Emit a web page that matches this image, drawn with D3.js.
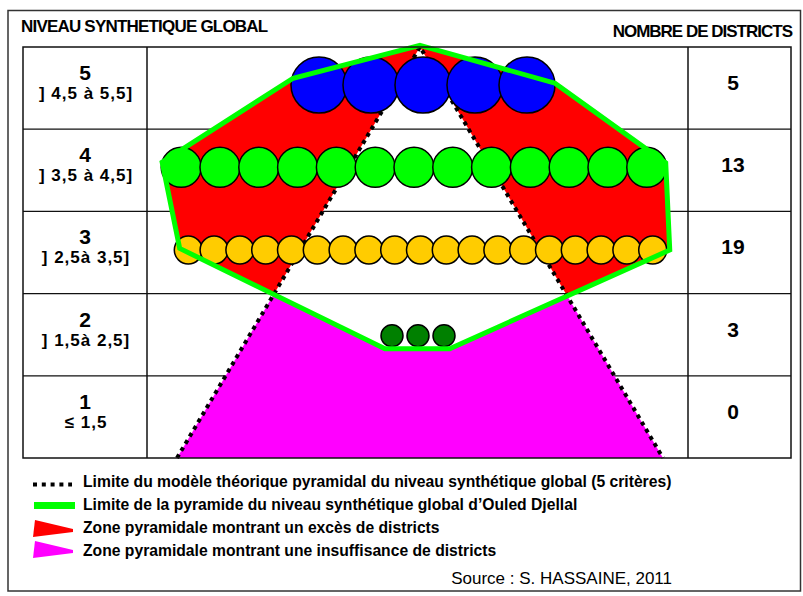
<!DOCTYPE html>
<meta charset="utf-8">
<style>
    body { margin: 0; background: #fff; }
    text { font-family: "Liberation Sans", Arial, sans-serif; fill: #000; }
</style>
<body>
<svg id="chart" width="803" height="596"></svg>
<script src="https://cdn.jsdelivr.net/npm/d3@7/dist/d3.min.js"></script>
<script>
    // niveaux synthétiques et nombre de districts
    var levels = [5, 4, 3, 2, 1]
    var intervals = ["] 4,5 à 5,5]", "] 3,5 à 4,5]", "] 2,5à 3,5]", "] 1,5à 2,5]", "≤ 1,5"]
    var districts = [5, 13, 19, 3, 0]

    // pyramide théorique [x, niveau]
    var theoretical = [[-90, 0.5], [0, 5.5], [90, 0.5]]
    // pyramide observée d'Ouled Djellal [x, niveau]
    var observed = [[0, 5.52], [50, 5.06], [91, 4.09], [92.5, 3.03], [11, 1.83],
                    [-13, 1.83], [-89, 3.05], [-95.5, 4.1], [-47, 5.12]]

    var legendLabels = [
        "Limite du modèle théorique pyramidal du niveau synthétique global (5 critères)",
        "Limite de la pyramide du niveau synthétique global d\u2019Ouled Djellal",
        "Zone pyramidale montrant un excès de districts",
        "Zone pyramidale montrant une insuffisance de districts"
    ]

    // style des cercles par niveau
    var circleStyle = {
        5: {fill: "#0000ff", r: 28, step: 52, dx: 3, dy: -3},
        4: {fill: "#00ff00", r: 20, step: 38.8, dx: -6, dy: -3},
        3: {fill: "#ffcc00", r: 14, step: 25.8, dx: 0.5, dy: -2.5},
        2: {fill: "#008000", r: 11, step: 26, dx: -2, dy: 1},
        1: {fill: "#000", r: 10, step: 20, dx: 0, dy: 0}
    }

    var svg = d3.select("#chart")

    var x = d3.scaleLinear().domain([-100, 100]).range([150, 690])
    var y = d3.scaleLinear().domain([5.5, 0.5]).range([47, 458])

    var tableLeft = 23, col1 = 147, col2 = 688, tableRight = 791

    // cadre
    svg.append("rect")
        .attr("x", 8).attr("y", 10.5).attr("width", 792.5).attr("height", 580.5)
        .attr("fill", "none").attr("stroke", "#333").attr("stroke-width", 1.5)

    svg.append("text").attr("x", 21).attr("y", 32)
        .attr("font-size", 17).attr("font-weight", "bold").attr("letter-spacing", -0.8)
        .text("NIVEAU SYNTHETIQUE GLOBAL")
    svg.append("text").attr("x", 792).attr("y", 37).attr("text-anchor", "end")
        .attr("font-size", 17).attr("font-weight", "bold").attr("letter-spacing", -1)
        .text("NOMBRE DE DISTRICTS")

    // lignes du tableau
    svg.selectAll("line.row")
        .data(levels.slice(0, -1))
        .enter().append("line")
        .attr("class", "row")
        .attr("x1", tableLeft).attr("x2", tableRight)
        .attr("y1", d => y(d - 0.5)).attr("y2", d => y(d - 0.5))
        .attr("stroke", "#111").attr("stroke-width", 1.2)

    var lineGen = d3.line().x(d => x(d[0])).y(d => y(d[1]))
    var closedGen = d3.line().x(d => x(d[0])).y(d => y(d[1])).curve(d3.curveLinearClosed)

    var defs = svg.append("defs")
    var m1 = defs.append("mask").attr("id", "outTheory").attr("maskUnits", "userSpaceOnUse")
        .attr("x", 0).attr("y", 0).attr("width", 803).attr("height", 596)
    m1.append("rect").attr("width", 803).attr("height", 596).attr("fill", "#fff")
    m1.append("path").attr("d", closedGen(theoretical)).attr("fill", "#000")

    var m2 = defs.append("mask").attr("id", "outObserved").attr("maskUnits", "userSpaceOnUse")
        .attr("x", 0).attr("y", 0).attr("width", 803).attr("height", 596)
    m2.append("rect").attr("width", 803).attr("height", 596).attr("fill", "#fff")
    m2.append("path").attr("d", closedGen(observed)).attr("fill", "#000")

    // excès
    svg.append("path").attr("d", closedGen(observed))
        .attr("fill", "#ff0000").attr("mask", "url(#outTheory)")
    // insuffisance
    svg.append("path").attr("d", closedGen(theoretical))
        .attr("fill", "#ff00ff").attr("mask", "url(#outObserved)")

    svg.append("path").attr("d", lineGen(theoretical))
        .attr("fill", "none").attr("stroke", "#000").attr("stroke-width", 4)
        .attr("stroke-dasharray", "4 4.3")

    // cercles : un par district
    levels.forEach(function(lv, i) {
        var n = districts[i], st = circleStyle[lv]
        var half = Math.max(n - 1, 1) * st.step / 2
        var cx = d3.scaleLinear().domain([0, Math.max(n - 1, 1)])
            .range([x(0) + st.dx - half, x(0) + st.dx + half])
        if (n === 1) cx = () => x(0) + st.dx
        svg.selectAll("circle.l" + lv)
            .data(d3.range(n))
            .enter().append("circle")
            .attr("class", "l" + lv)
            .attr("cx", d => cx(d))
            .attr("cy", y(lv) + st.dy)
            .attr("r", st.r)
            .attr("fill", st.fill)
            .attr("stroke", "#000").attr("stroke-width", 1.5)
    })

    svg.append("path").attr("d", closedGen(observed))
        .attr("fill", "none").attr("stroke", "#00ff00").attr("stroke-width", 5)

    // bords du tableau
    svg.append("rect")
        .attr("x", tableLeft).attr("y", y(5.5)).attr("width", tableRight - tableLeft)
        .attr("height", y(0.5) - y(5.5))
        .attr("fill", "none").attr("stroke", "#111").attr("stroke-width", 1.5)
    svg.selectAll("line.col")
        .data([col1, col2])
        .enter().append("line")
        .attr("x1", d => d).attr("x2", d => d)
        .attr("y1", y(5.5)).attr("y2", y(0.5))
        .attr("stroke", "#111").attr("stroke-width", 1.5)

    // libellés
    var labelX = (tableLeft + col1) / 2
    svg.selectAll("text.lv")
        .data(levels)
        .enter().append("text")
        .attr("x", labelX).attr("y", d => y(d + 0.5) + 33)
        .attr("text-anchor", "middle").attr("font-size", 21).attr("font-weight", "bold")
        .text(d => d)
    svg.selectAll("text.iv")
        .data(intervals)
        .enter().append("text")
        .attr("x", labelX + 1).attr("y", (d, i) => y(levels[i] + 0.5) + 52)
        .attr("text-anchor", "middle").attr("font-size", 17).attr("font-weight", "bold")
        .attr("letter-spacing", 1)
        .text(d => d)
    svg.selectAll("text.nb")
        .data(districts)
        .enter().append("text")
        .attr("x", 733).attr("y", (d, i) => y(levels[i] + 0.5) + 43)
        .attr("text-anchor", "middle").attr("font-size", 21).attr("font-weight", "bold")
        .text(d => d)

    // légende
    var legY = [487, 510, 533, 556]
    svg.append("line").attr("x1", 33).attr("x2", 72).attr("y1", 484.5).attr("y2", 484.5)
        .attr("stroke", "#000").attr("stroke-width", 4).attr("stroke-dasharray", "4 4.8")
    svg.append("line").attr("x1", 34).attr("x2", 75).attr("y1", 505.5).attr("y2", 505.5)
        .attr("stroke", "#00ff00").attr("stroke-width", 7)
    svg.append("path").attr("d", "M35,520 L73,529 L73,532 L33,537 Z").attr("fill", "#ff0000")
    svg.append("path").attr("d", "M35,541 L73,550 L73,553 L33,558 Z").attr("fill", "#ff00ff")
    svg.selectAll("text.leg")
        .data(legendLabels)
        .enter().append("text")
        .attr("x", 83).attr("y", (d, i) => legY[i])
        .attr("font-size", 15.7).attr("font-weight", "bold")
        .text(d => d)

    svg.append("text").attr("x", 672).attr("y", 584).attr("text-anchor", "end")
        .attr("font-size", 17).text("Source : S. HASSAINE, 2011")
</script>
</body>
